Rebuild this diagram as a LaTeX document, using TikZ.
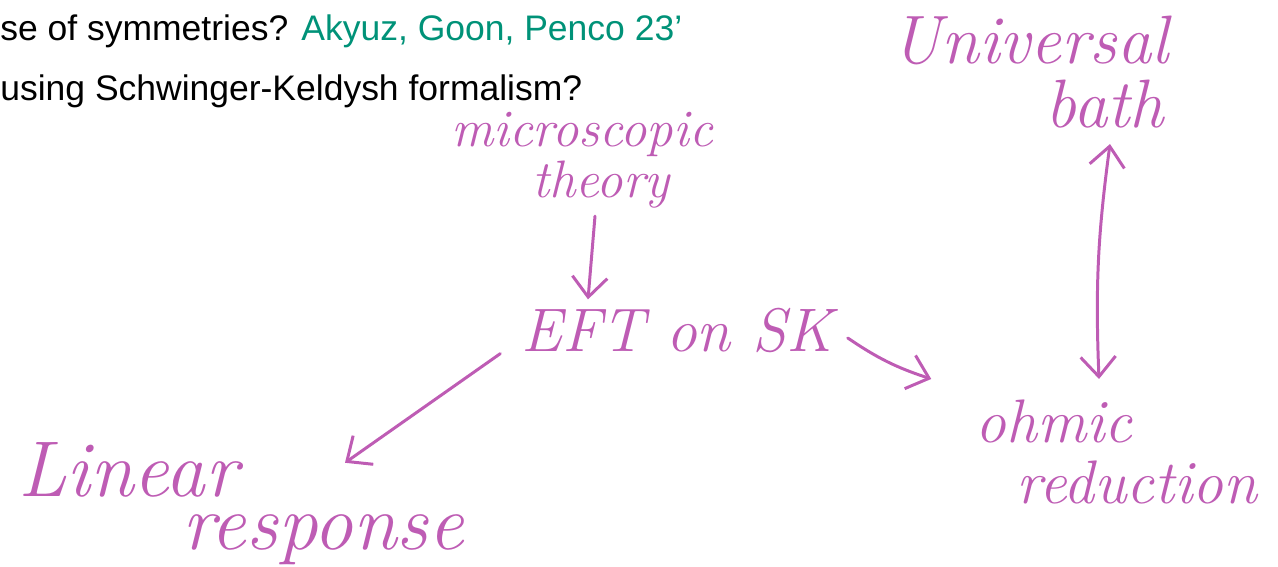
\documentclass[tikz,border=0pt]{standalone}
\usepackage{fontspec}
\usepackage{tikz}
\usetikzlibrary{arrows.meta}
\usetikzlibrary{calc}
\usepackage{xcolor}

\newfontfamily\slidefont{Liberation Sans}
\definecolor{ink}{RGB}{190,92,180}
\definecolor{cite}{RGB}{0,146,120}

\begin{document}
\begin{tikzpicture}[
		x=0.02cm, y=-0.02cm,
		% Style definitions for slide text and pen notes
		slide/.style={inner sep=0, anchor=base west, font=\slidefont\fontsize{20.2}{24}\selectfont},
		hand/.style={inner sep=0, anchor=base, text=ink},
		handS/.style={hand, font=\itshape\fontsize{30}{34}\selectfont},
		handM/.style={hand, font=\itshape\fontsize{35}{40}\selectfont},
		handL/.style={hand, font=\itshape\fontsize{39}{44}\selectfont},
		handXL/.style={hand, font=\itshape\fontsize{45}{50}\selectfont},
		arrow/.style={-{Straight Barb[length=4mm, width=7mm]}, ink, line width=1.7pt, line cap=round, line join=round},
		biarrow/.style={arrow, {Straight Barb[length=4mm, width=7mm]}-{Straight Barb[length=4mm, width=7mm]}},
		]
		\useasboundingbox (0,0) rectangle (1278,567);

		% === Slide text (top left) ===
		\node[slide] (q1) at (0,41) {se of symmetries? \textcolor{cite}{Akyuz, Goon, Penco 23’}};
		\node[slide] (q2) at (0,101) {using Schwinger-Keldysh formalism?};

		% === Pen notes ===
		\node[handS] (micro) at (582,147) {microscopic};
		\node[handS] (theory) at (601,198) {theory};
		\node[handM] (eft) at (677,352) {EFT on SK};
		\node[handL] (univ) at (1030,64) {Universal};
		\node[handL] (bath) at (1105,128) {bath};
		\node[handXL] (linear) at (128,496) {Linear};
		\node[handXL] (resp) at (323,549) {response};
		\node[handM] (ohmic) at (1054,442) {ohmic};
		\node[handM] (reduc) at (1137,503) {reduction};

		% === Arrows ===
		\draw[arrow] ($(theory.south)+(-6,7)$) -- ($(eft.north)+(-89,-9)$);
		\draw[arrow] ($(eft.south west)+(-21,0)$) -- ($(resp.north)+(22,-51)$);
		\draw[arrow] ($(eft.east)+(15,7)$) to[bend right=8] ($(ohmic.north west)+(-44,-20)$);
		\draw[biarrow] ($(bath.south)+(5,15)$) to[bend right=5] ($(ohmic.north)+(45,-20)$);

	\end{tikzpicture}
\end{document}
